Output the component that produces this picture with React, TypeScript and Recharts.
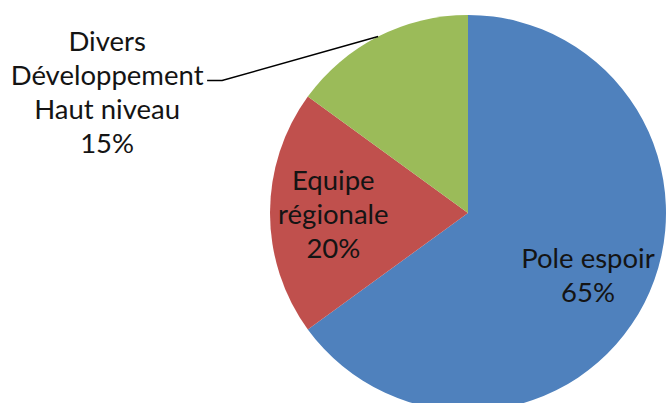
import React from 'react';
import {PieChart, Pie, Cell} from 'recharts';

const categories = ['Pole espoir', 'Equipe régionale', 'Divers Développement Haut niveau'];
const labelLines = [['Pole espoir'], ['Equipe', 'régionale'], ['Divers', 'Développement', 'Haut niveau']];
const values = [65, 20, 15];
const colors = ['#4F81BD', '#C0504D', '#9BBB59'];

const data = categories.map((name, i) => ({name, value: values[i]}));

const RAD = Math.PI / 180;
const FONT = 'Lato, "Open Sans", sans-serif';
const FONT_SIZE = 27.5;
const LINE_H = 34;

const renderLabel = (props: any) => {
    const {cx, cy, midAngle, outerRadius, percent, index} = props;
    const lines = [...labelLines[index], `${Math.round(percent * 100)}%`];

    if (index === 2) {
        // outside label with a leader line
        const sx = cx + outerRadius * Math.cos(-midAngle * RAD);
        const sy = cy + outerRadius * Math.sin(-midAngle * RAD);
        const ex = sx - 156;
        const ey = sy + 44;
        const tx = ex - 115;
        const top = ey - 41;
        return (
            <g key={`lbl-${index}`}>
                <path d={`M${sx},${sy} L${ex},${ey} L${ex - 15},${ey}`} stroke="#000" strokeWidth={1.5} fill="none"/>
                <text x={tx} y={top} textAnchor="middle" fill="#141414" fontFamily={FONT} fontSize={FONT_SIZE}
                      dominantBaseline="central">
                    {lines.map((l, i) => (
                        <tspan key={i} x={tx} y={top + i * LINE_H}>{l}</tspan>
                    ))}
                </text>
            </g>
        );
    }

    const r = outerRadius * 0.68;
    const x = cx + r * Math.cos(-midAngle * RAD);
    const y = cy + r * Math.sin(-midAngle * RAD);
    const y0 = y - ((lines.length - 1) / 2) * LINE_H;
    return (
        <text key={`lbl-${index}`} x={x} y={y0} textAnchor="middle" fill="#141414" fontFamily={FONT}
              fontSize={FONT_SIZE} dominantBaseline="central">
            {lines.map((l, i) => (
                <tspan key={i} x={x} y={y0 + i * LINE_H}>{l}</tspan>
            ))}
        </text>
    );
};

export default function App() {
    return (
        <div style={{width: 667, height: 403, background: '#fff'}}>
            <style>{`body{margin:0}`}</style>
            <PieChart width={667} height={403} margin={{top: 0, right: 0, bottom: 0, left: 0}}>
                <Pie
                    data={data}
                    dataKey="value"
                    nameKey="name"
                    cx={468}
                    cy={213}
                    outerRadius={198}
                    startAngle={90}
                    endAngle={-270}
                    stroke="none"
                    label={renderLabel}
                    labelLine={false}
                    isAnimationActive={false}
                >
                    {data.map((d, i) => (
                        <Cell key={d.name} fill={colors[i]}/>
                    ))}
                </Pie>
            </PieChart>
        </div>
    );
}
